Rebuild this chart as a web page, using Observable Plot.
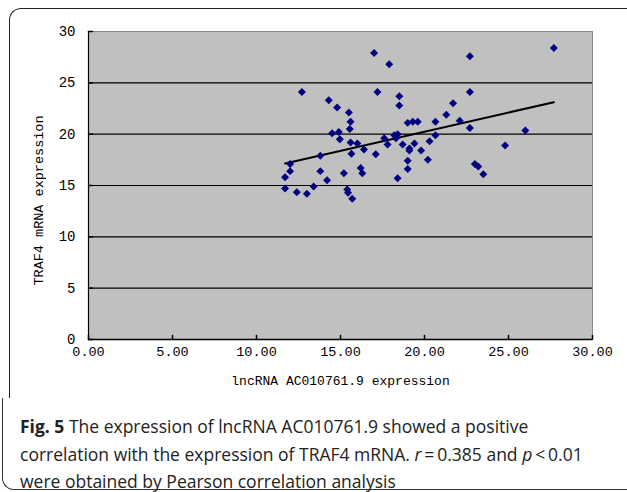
<!DOCTYPE html>
<html><head><meta charset="utf-8">
<script src="https://cdn.jsdelivr.net/npm/d3@7"></script>
<script src="https://cdn.jsdelivr.net/npm/@observablehq/plot@0.6"></script>
<style>
body{margin:0;width:627px;height:492px;position:relative;overflow:hidden;background:#fff;}
#frame{position:absolute;left:9px;top:8px;width:700px;height:420px;border-left:1.5px solid #222;border-top:1.5px solid #222;border-radius:12px 0 0 0;}
#chart{position:absolute;left:0;top:0;}
#cap{position:absolute;left:2px;top:398px;width:700px;height:91px;border-left:1.5px solid #333;border-bottom:1.5px solid #333;border-radius:0 0 0 12px;background:#fff;}
#captext{position:absolute;left:20px;top:413px;width:575px;font-family:"Open Sans",sans-serif;font-size:17.5px;line-height:27.5px;color:#222;}
#captext b{font-weight:700;}
</style></head>
<body>
<div id="frame"></div>
<div id="cap"></div>
<div id="chart"></div>
<div id="captext"><b>Fig. 5</b> The expression of lncRNA AC010761.9 showed a positive correlation with the expression of TRAF4 mRNA. <i>r</i>&thinsp;=&thinsp;0.385 and <i>p</i>&thinsp;&lt;&thinsp;0.01 were obtained by Pearson correlation analysis</div>
<script>
const lncRNA = [17.0,17.9,12.7,17.2,18.5,18.5,14.3,14.8,15.5,21.7,21.3,22.1,19.0,19.3,19.6,20.65,15.6,15.55,14.5,14.9,22.7,26.0,17.6,18.2,18.4,18.3,20.65,14.96,15.6,16.0,17.8,18.7,19.4,19.1,19.1,19.8,20.3,16.4,15.65,17.1,13.8,12.0,20.2,19.0,19.0,18.4,23.0,23.2,23.5,24.8,27.7,22.7,22.7,12.0,11.7,13.8,15.2,16.2,16.3,14.2,13.4,11.7,12.4,13.0,15.4,15.45,15.7];
const traf4 = [27.9,26.8,24.1,24.1,23.7,22.8,23.3,22.6,22.1,23.0,21.9,21.3,21.1,21.2,21.2,21.2,21.2,20.5,20.1,20.2,20.6,20.35,19.6,19.9,20.0,19.6,19.9,19.5,19.2,19.1,19.0,19.0,19.1,18.6,18.4,18.4,19.3,18.5,18.1,18.05,17.9,17.1,17.5,17.4,16.6,15.7,17.1,16.85,16.1,18.9,28.4,27.6,24.1,16.4,15.8,16.4,16.2,16.7,16.2,15.5,14.9,14.7,14.35,14.2,14.6,14.3,13.7];
const xTicks = [0,5,10,15,20,25,30];
const yTicks = [0,5,10,15,20,25,30];
const yGrid = [5,10,15,20,25];
const data = lncRNA.map((x,i)=>({x, y: traf4[i]}));
const tickShape = {draw(ctx, l){ctx.moveTo(0,0);ctx.lineTo(0,-l);}};
const mono = "'Liberation Mono', 'DejaVu Sans Mono', monospace";
const chart = Plot.plot({
  width: 627, height: 397,
  marginLeft: 88, marginRight: 35, marginTop: 31, marginBottom: 58,
  x: {domain: [0,30]},
  y: {domain: [0,30]},
  style: {fontFamily: mono, fontSize: "13px", background: "transparent", color: "#000"},
  marks: [
    Plot.frame({fill: "#c0c0c0", stroke: "#888"}),
    Plot.ruleY(yGrid, {stroke: "#000", strokeWidth: 1.2}),
    Plot.ruleX([0], {stroke: "#000", strokeWidth: 1.2}),
    Plot.ruleY([0], {stroke: "#000", strokeWidth: 1.5}),
    Plot.vector(xTicks, {x: d=>d, y: 0, length: 4, rotate: 0, anchor: "start", shape: tickShape, stroke: "#000"}),
    Plot.vector(yTicks, {x: 0, y: d=>d, length: 4, rotate: 90, anchor: "start", shape: tickShape, stroke: "#000"}),
    Plot.axisX({ticks: xTicks, tickSize: 0, tickPadding: 7, tickFormat: d=>d.toFixed(2), label: null, fontSize: 13.5}),
    Plot.axisY({ticks: yTicks, tickSize: 0, tickPadding: 13, label: null, fontSize: 14}),
    Plot.text(["lncRNA AC010761.9 expression"], {frameAnchor: "bottom", dy: 45, fontSize: 13}),
    Plot.text(["TRAF4 mRNA expression"], {frameAnchor: "left", textAnchor: "middle", rotate: -90, dx: -50, dy: 15, fontSize: 13.5}),
    Plot.linearRegressionY(data, {x: "x", y: "y", stroke: "#000", strokeWidth: 2, ci: 0}),
    Plot.dot(data, {x: "x", y: "y", symbol: "diamond2", r: 3.6, fill: "#000080", stroke: "none"})
  ]
});
document.getElementById("chart").append(chart);
</script>
</body></html>
